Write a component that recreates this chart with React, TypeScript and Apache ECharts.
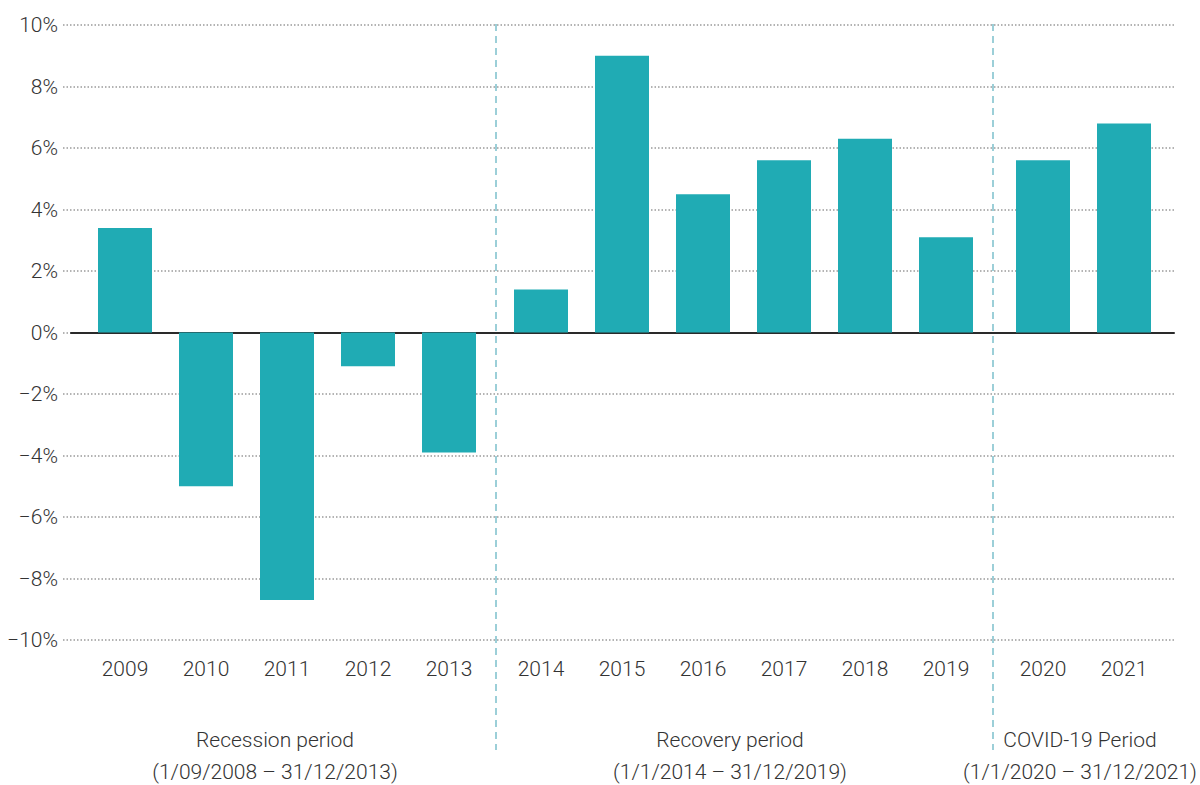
import React, { useEffect, useRef } from "react";
import * as echarts from "echarts";

// ---- data ----
const recessionYears = ["2009", "2010", "2011", "2012", "2013"];
const recessionValues = [3.4, -5.0, -8.7, -1.1, -3.9];
const recoveryYears = ["2014", "2015", "2016", "2017", "2018", "2019"];
const recoveryValues = [1.4, 9.0, 4.5, 5.6, 6.3, 3.1];
const covidYears = ["2020", "2021"];
const covidValues = [5.6, 6.8];
const periodLabels = [
  "Recession period\n(1/09/2008 – 31/12/2013)",
  "Recovery period\n(1/1/2014 – 31/12/2019)",
  "COVID-19 Period\n(1/1/2020 – 31/12/2021)",
];
const Y_MIN = -10;
const Y_MAX = 10;
const Y_STEP = 2;

// ---- layout ----
const W = 1200;
const H = 785;
const TOP = 25;
const BOTTOM = 145;
const CAT_W = 81;
const groupLefts = [84.5, 500.5, 1002.5];
const separatorsX = [496, 993];
const periodCentersX = [275, 730, 1080];
const FONT = "Roboto, 'Noto Sans', sans-serif";
const FONT_SIZE = 21;
const TEXT_COLOR = "#333";
const BAR_COLOR = "#20abb4";

const groups = [
  { cats: recessionYears, vals: recessionValues },
  { cats: recoveryYears, vals: recoveryValues },
  { cats: covidYears, vals: covidValues },
];

const fmtPct = (v: number) => (v < 0 ? "−" + Math.abs(v) : String(v)) + "%";

export default function App() {
  const ref = useRef<HTMLDivElement>(null);
  useEffect(() => {
    if (!ref.current) return;
    const chart = echarts.init(ref.current, undefined, { renderer: "svg" });

    const grids: any[] = [
      { left: 63, right: 25, top: TOP, bottom: BOTTOM }, // background grid lines
      { left: 71, right: 26, top: TOP, bottom: BOTTOM }, // zero line
    ];
    const xAxes: any[] = [
      { type: "value", gridIndex: 0, min: 0, max: 1, show: false },
      {
        type: "value",
        gridIndex: 1,
        min: 0,
        max: 1,
        axisLine: { show: true, onZero: true, lineStyle: { color: "#2a2a2a", width: 2 } },
        axisTick: { show: false },
        axisLabel: { show: false },
        splitLine: { show: false },
      },
    ];
    const yAxes: any[] = [
      {
        type: "value",
        gridIndex: 0,
        min: Y_MIN,
        max: Y_MAX,
        interval: Y_STEP,
        axisLine: { show: false },
        axisTick: { show: false },
        axisLabel: {
          formatter: fmtPct,
          color: TEXT_COLOR,
          fontFamily: FONT,
          fontWeight: 300,
          fontSize: FONT_SIZE,
          margin: 5,
        },
        splitLine: { show: true, lineStyle: { color: "#9a9a9a", width: 1.5, type: [1.5, 2] } },
      },
      { type: "value", gridIndex: 1, min: Y_MIN, max: Y_MAX, show: false, splitLine: { show: false } },
    ];
    const series: any[] = [];

    groups.forEach((g, i) => {
      const gi = grids.length;
      const left = groupLefts[i];
      const width = g.cats.length * CAT_W;
      grids.push({ left, width, top: TOP, bottom: BOTTOM });
      xAxes.push({
        type: "category",
        gridIndex: gi,
        data: g.cats,
        axisLine: { show: false, onZero: false },
        axisTick: { show: false },
        axisLabel: {
          color: TEXT_COLOR,
          fontFamily: FONT,
          fontWeight: 300,
          fontSize: FONT_SIZE,
          margin: 18,
        },
        splitLine: { show: false },
      });
      yAxes.push({
        type: "value",
        gridIndex: gi,
        min: Y_MIN,
        max: Y_MAX,
        show: false,
        splitLine: { show: false },
      });
      series.push({
        type: "bar",
        xAxisIndex: gi,
        yAxisIndex: gi,
        data: g.vals,
        barWidth: 54,
        itemStyle: { color: BAR_COLOR },
        z: 1,
      });
    });

    const graphic: any[] = [];
    separatorsX.forEach((x) => {
      graphic.push({
        type: "line",
        shape: { x1: x, y1: 24, x2: x, y2: 750 },
        style: { stroke: "#9ccfd8", lineWidth: 2, lineDash: [7, 5] },
        z: 100,
      });
    });
    periodLabels.forEach((t, i) => {
      graphic.push({
        type: "text",
        x: periodCentersX[i],
        y: 724,
        style: {
          text: t,
          fill: TEXT_COLOR,
          font: `300 ${FONT_SIZE}px ${FONT}`,
          fontFamily: FONT,
          fontWeight: 300,
          fontSize: FONT_SIZE,
          lineHeight: 32,
          align: "center",
          verticalAlign: "top",
        },
      });
    });

    chart.setOption({
      animation: false,
      backgroundColor: "#fff",
      grid: grids,
      xAxis: xAxes,
      yAxis: yAxes,
      series,
      graphic,
    });
    return () => chart.dispose();
  }, []);
  return (
    <div
      ref={ref}
      style={{ width: W, height: H, position: "absolute", left: 0, top: 0 }}
    />
  );
}
